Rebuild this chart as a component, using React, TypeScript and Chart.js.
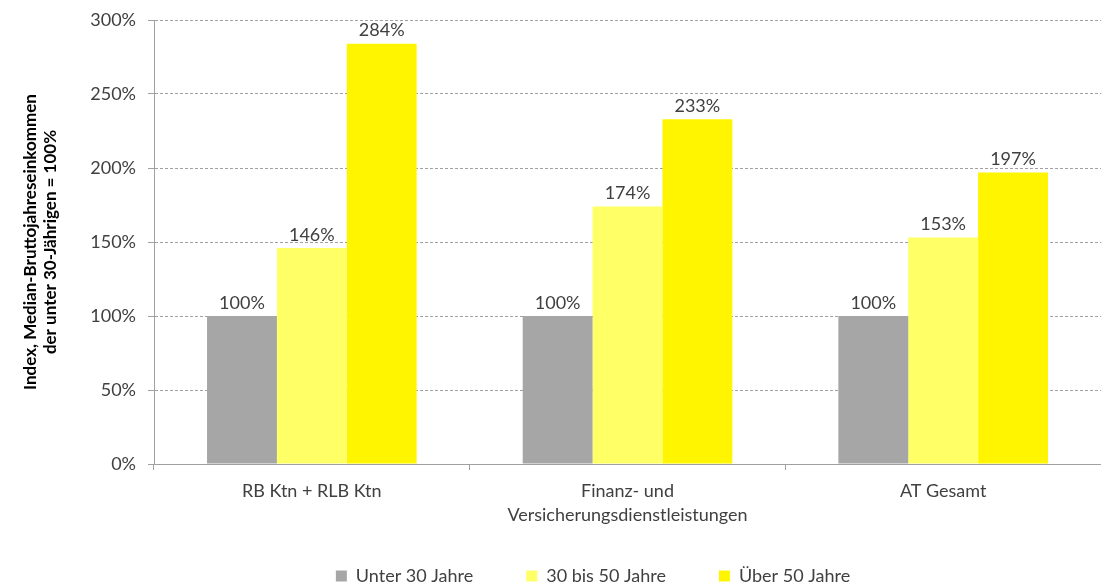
import React, { useEffect, useRef } from "react";
import { Chart, registerables } from "chart.js";

Chart.register(...registerables);

const categories: (string | string[])[] = [
  "RB Ktn + RLB Ktn",
  ["Finanz- und", "Versicherungsdienstleistungen"],
  "AT Gesamt",
];
const seriesNames = ["Unter 30 Jahre", "30 bis 50 Jahre", "Über 50 Jahre"];
const under30 = [100, 100, 100];
const from30to50 = [146, 174, 153];
const over50 = [284, 233, 197];
const seriesColors = ["#A6A6A6", "#FFFF66", "#FFF500"];
const yTicks = [0, 50, 100, 150, 200, 250, 300];
const yTitle = ["Index, Median-Bruttojahreseinkommen", "der unter 30-Jährigen = 100%"];

const FONT = "Lato, 'Open Sans', sans-serif";
const TEXT = "#404040";

const valueLabels = {
  id: "valueLabels",
  afterDatasetsDraw(chart: any) {
    const ctx = chart.ctx;
    ctx.save();
    ctx.font = `18px ${FONT}`;
    ctx.fillStyle = TEXT;
    ctx.textAlign = "center";
    ctx.textBaseline = "bottom";
    chart.data.datasets.forEach((ds: any, i: number) => {
      const meta = chart.getDatasetMeta(i);
      meta.data.forEach((bar: any, j: number) => {
        ctx.fillText(`${ds.data[j]}%`, bar.x, bar.y - 4);
      });
    });
    ctx.restore();
  },
};

const legendShift = {
  id: "legendShift",
  afterLayout(chart: any) {
    const lg = chart.legend;
    if (lg) {
      lg.left += 30;
      lg.right += 30;
      lg.top -= 14;
      lg.bottom -= 14;
    }
  },
};

export default function App() {
  const ref = useRef<HTMLCanvasElement | null>(null);
  useEffect(() => {
    if (!ref.current) return;
    const chart = new Chart(ref.current, {
      type: "bar",
      data: {
        labels: categories,
        datasets: [under30, from30to50, over50].map((d, i) => ({
          label: seriesNames[i],
          data: d,
          backgroundColor: seriesColors[i],
          borderWidth: 0,
          categoryPercentage: 0.664,
          barPercentage: 1,
        })),
      },
      options: {
        animation: false,
        responsive: false,
        maintainAspectRatio: false,
        layout: { padding: { left: 20, right: -5, top: 20, bottom: -21 } },
        plugins: {
          tooltip: { enabled: false },
          legend: {
            position: "bottom",
            labels: {
              font: { family: FONT, size: 18 },
              color: TEXT,
              boxWidth: 11,
              boxHeight: 11,
              padding: 53,
            },
          },
        },
        scales: {
          x: {
            afterFit: (axis: any) => {
              axis.height = 64;
            },
            grid: {
              offset: true,
              drawOnChartArea: false,
              drawTicks: true,
              tickLength: 6,
              color: "#A0A0A0",
            },
            border: { display: true, color: "#A0A0A0", width: 1 },
            ticks: {
              font: { family: FONT, size: 18, lineHeight: 1.33 },
              color: TEXT,
              padding: 9,
              maxRotation: 0,
              autoSkip: false,
            },
          },
          y: {
            min: 0,
            max: 300,
            afterBuildTicks: (axis: any) => {
              axis.ticks = yTicks.map((v) => ({ value: v }));
            },
            afterFit: (axis: any) => {
              axis.width = 134;
              axis.paddingTop = 0;
              axis.paddingBottom = 0;
            },
            grid: {
              color: "#A0A0A0",
              tickBorderDash: [],
              tickLength: 6,
              drawTicks: true,
            },
            border: { display: true, color: "#A0A0A0", width: 1, dash: [3, 2] },
            ticks: {
              font: { family: FONT, size: 18 },
              color: TEXT,
              padding: 12,
              callback: (v: any) => `${v}%`,
            },
            title: {
              display: true,
              text: yTitle,
              font: { family: FONT, size: 17, weight: "bold" },
              color: "#000000",
              padding: { top: 0, bottom: 12 },
            },
          },
        },
      },
      plugins: [valueLabels, legendShift],
    });
    return () => chart.destroy();
  }, []);
  return (
    <div style={{ position: "fixed", left: 0, top: 0, width: 1101, height: 588, background: "#fff" }}>
      <canvas ref={ref} width={1101} height={588} style={{ width: 1101, height: 588 }} />
    </div>
  );
}
